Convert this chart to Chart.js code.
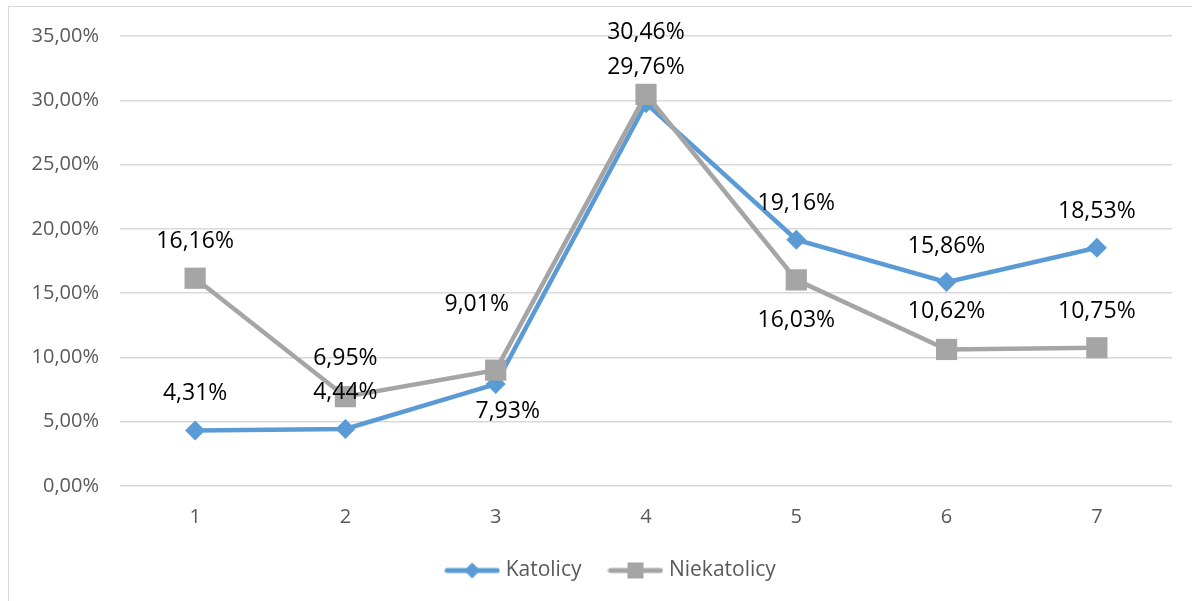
<!DOCTYPE html>
<html>
<head>
<meta charset="utf-8">
<script src="https://cdn.jsdelivr.net/npm/chart.js@4/dist/chart.umd.min.js"></script>
<style>
	body { margin: 0; background: #fff; }
	#frame { position: absolute; left: 8px; top: 6px; width: 1183px; height: 594px; border: 1px solid #d9d9d9; border-bottom: none; border-right: none; }
</style>
</head>
<body>
<div id="frame"><canvas id="chart_content" width="1183" height="594"></canvas></div>
<script>
const categories = ["1", "2", "3", "4", "5", "6", "7"];
const katolicy = [4.31, 4.44, 7.93, 29.76, 19.16, 15.86, 18.53];
const niekatolicy = [16.16, 6.95, 9.01, 30.46, 16.03, 10.62, 10.75];
const yTicks = [0, 5, 10, 15, 20, 25, 30, 35];

// where each data label sits relative to its point (dx, dy in px)
const katolicyLabelPos = [[0, -37], [0, -36], [12, 27], [0, -36], [0, -36], [0, -36], [0, -36]];
const niekatolicyLabelPos = [[0, -37], [0, -38], [-19, -66], [0, -62], [0, 41], [0, -38], [0, -36]];

const blue = "#5b9bd5";
const gray = "#a5a5a5";
const fontFamily = "'Open Sans', sans-serif";

function pct(v) {
	return v.toFixed(2).replace(".", ",") + "%";
}

// legend symbol: short line with the marker in the middle
function legendSymbol(color, style) {
	var c = document.createElement("canvas");
	c.width = 56;
	c.height = 22;
	var ctx = c.getContext("2d");
	ctx.strokeStyle = color;
	ctx.lineWidth = 5;
	ctx.lineCap = "round";
	ctx.beginPath();
	ctx.moveTo(3, 11);
	ctx.lineTo(53, 11);
	ctx.stroke();
	ctx.fillStyle = color;
	ctx.beginPath();
	if (style == "diamond") {
		ctx.moveTo(28, 3); ctx.lineTo(36, 11); ctx.lineTo(28, 19); ctx.lineTo(20, 11);
	} else {
		ctx.rect(20, 3, 16, 16);
	}
	ctx.fill();
	return c;
}

const dataLabels = {
	id: "dataLabels",
	afterLayout(chart) {
		// legend sits a bit right of the canvas centre in the original
		chart.legend.left += 22;
		chart.legend.right += 22;
	},
	afterDatasetsDraw(chart) {
		var ctx = chart.ctx;
		ctx.save();
		ctx.font = "23px " + fontFamily;
		ctx.fillStyle = "#000";
		ctx.textAlign = "center";
		ctx.textBaseline = "middle";
		chart.data.datasets.forEach(function(ds, i) {
			var meta = chart.getDatasetMeta(i);
			meta.data.forEach(function(pt, j) {
				var off = ds.labelPos[j];
				ctx.fillText(pct(ds.data[j]), pt.x + off[0], pt.y + off[1]);
			});
		});
		ctx.restore();
	}
};

function drawChart() {
	var config = {
		type: "line",
		data: {
			labels: categories,
			datasets: [{
				label: "Katolicy",
				data: katolicy,
				labelPos: katolicyLabelPos,
				borderColor: blue,
				backgroundColor: blue,
				borderWidth: 4.5,
				pointStyle: "rectRot",
				pointRadius: 10,
				pointHoverRadius: 10,
				pointBorderWidth: 0,
				order: 1
			}, {
				label: "Niekatolicy",
				data: niekatolicy,
				labelPos: niekatolicyLabelPos,
				borderColor: gray,
				backgroundColor: gray,
				borderWidth: 4.5,
				pointStyle: "rect",
				pointRadius: 15,
				pointHoverRadius: 15,
				pointBorderWidth: 0,
				order: 0
			}]
		},
		options: {
			responsive: false,
			animation: false,
			layout: { autoPadding: false, padding: { top: 29, right: 20, left: 0, bottom: 10 } },
			scales: {
				x: {
					offset: true,
					grid: { display: false },
					border: { display: false },
					ticks: { color: "#595959", font: { size: 20, family: fontFamily }, padding: 11 },
					afterFit: function(scale) { scale.height = 43; }
				},
				y: {
					min: 0,
					max: 35,
					afterBuildTicks: function(scale) {
						scale.ticks = yTicks.map(function(v) { return { value: v }; });
					},
					grid: { color: "#d9d9d9", lineWidth: 1.5, drawTicks: false },
					border: { display: false },
					ticks: {
						color: "#595959",
						font: { size: 20, family: fontFamily, lineHeight: 0.5 },
						padding: 21,
						callback: function(v) { return pct(v); }
					},
					afterFit: function(scale) { scale.width = 111; }
				}
			},
			plugins: {
				tooltip: { enabled: false },
				legend: {
					position: "bottom",
					labels: {
						usePointStyle: true,
						pointStyleWidth: 46,
						padding: 31,
						color: "#595959",
						font: { size: 21, family: fontFamily },
						sort: function(a, b) { return a.datasetIndex - b.datasetIndex; },
						generateLabels: function(chart) {
							return chart.data.datasets.map(function(ds, i) {
								return {
									text: ds.label,
									datasetIndex: i,
									fontColor: "#595959",
									pointStyle: legendSymbol(ds.borderColor, i == 0 ? "diamond" : "square"),
									lineWidth: 0
								};
							});
						}
					}
				}
			}
		},
		plugins: [dataLabels]
	};
	new Chart(document.getElementById("chart_content"), config);
}

window.onload = function() {
	drawChart();
};
</script>
</body>
</html>
